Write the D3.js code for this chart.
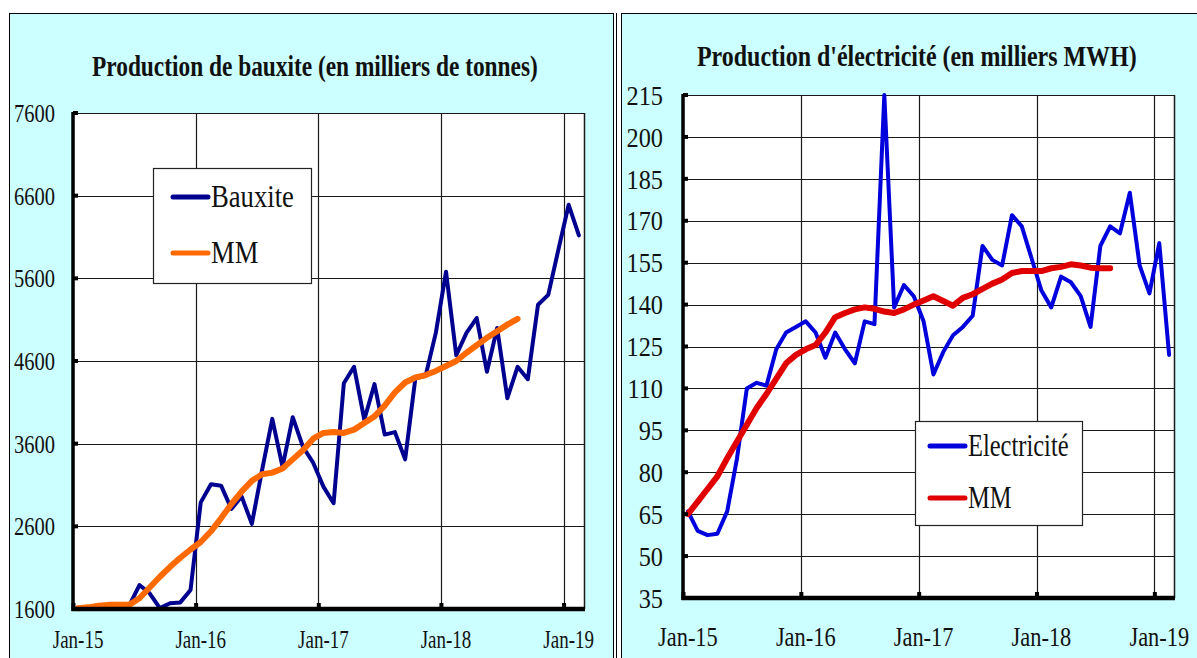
<!DOCTYPE html>
<html>
<head>
<meta charset="utf-8">
<script src="https://cdn.jsdelivr.net/npm/d3@7"></script>
<style>
  body { margin: 0; background: #fff; }
  svg { display: block; font-family: 'Liberation Serif', 'Times New Roman', serif; }
</style>
</head>
<body>
<svg width="1197" height="658"></svg>
<script>
'use strict'

// monthly data, Jan-15 .. Feb-19 (50 months); MM stops at Aug-18
const yearLabels = ['Jan-15', 'Jan-16', 'Jan-17', 'Jan-18', 'Jan-19']
const yearStarts = [0, 12, 24, 36, 48]

const bauxite = [1600, 1610, 1620, 1630, 1630, 1640, 1890, 1790, 1610, 1670,
  1680, 1830, 2890, 3110, 3090, 2810, 2960, 2630, 3280, 3900,
  3320, 3920, 3560, 3370, 3080, 2880, 4330, 4530, 3890, 4320,
  3710, 3740, 3410, 4390, 4420, 4940, 5680, 4670, 4940, 5120,
  4470, 5000, 4150, 4530, 4380, 5280, 5400, 5950, 6490, 6120]
const bauxiteMM = [1610, 1620, 1640, 1650, 1650, 1650, 1730, 1860, 1990, 2110,
  2220, 2320, 2410, 2540, 2700, 2870, 3020, 3150, 3230, 3250,
  3300, 3410, 3520, 3660, 3730, 3740, 3730, 3770, 3850, 3930,
  4060, 4220, 4340, 4400, 4430, 4480, 4540, 4600, 4700, 4790,
  4880, 4960, 5040, 5110]
const bauxiteTicks = [1600, 2600, 3600, 4600, 5600, 6600, 7600]

const electricite = [66, 59, 57.5, 58, 66, 85, 110, 112, 111, 124,
  130, 132, 134, 130, 121, 130, 124, 119, 134, 133,
  215, 139, 147, 143, 134, 115, 123, 129, 132, 136,
  161, 156, 154, 172, 168, 156.5, 145, 139, 150, 148,
  143, 132, 161, 168, 165.5, 180, 154, 144, 162, 122]
const electriciteMM = [65, 69.5, 74, 78.5, 85, 91, 97, 103, 108, 113.5,
  119, 122, 124, 125.5, 130, 135.5, 137, 138.3, 139, 138.5,
  137.5, 137, 138.3, 140, 141.5, 143, 141.3, 139.6, 142.4, 143.7,
  145.6, 147.5, 149, 151.3, 152, 152, 152, 153, 153.5, 154.4,
  154, 153.2, 153, 153]
const electriciteTicks = [35, 50, 65, 80, 95, 110, 125, 140, 155, 170, 185, 200, 215]

const svg = d3.select('svg')

// the source font is a narrow Garamond, so squeeze the text horizontally
// (scale about the anchor point, keeps the real bbox for layout checks)
function squeeze (sel, k) {
  sel.each(function () {
    const t = d3.select(this)
    const x = +t.attr('x'), y = +t.attr('y')
    t.attr('x', 0).attr('y', 0)
      .attr('transform', 'translate(' + x + ',' + y + ') scale(' + k + ',1)')
  })
}

function fitWidth (sel, w) {
  const k = w / sel.node().getComputedTextLength()
  squeeze(sel, k)
}

function drawChart (o) {
  const g = svg.append('g')

  g.append('rect')
    .attr('x', o.box[0] + 0.5).attr('y', o.box[1] + 0.5)
    .attr('width', o.box[2] - o.box[0]).attr('height', o.box[3] - o.box[1])
    .attr('fill', '#ccffff').attr('stroke', '#000').attr('stroke-width', 1)

  const title = g.append('text')
    .attr('x', o.titleX).attr('y', o.titleY)
    .attr('font-size', 30).attr('font-weight', 'bold').attr('fill', '#111')
    .text(o.title)
  fitWidth(title, o.titleW)

  const p = o.plot
  const x = d3.scaleLinear().domain([0, 50]).range([p.left, p.right])
  const y = d3.scaleLinear().domain([o.ticks[0], o.ticks[o.ticks.length - 1]]).range([p.bottom, p.top])

  g.append('rect')
    .attr('x', p.left).attr('y', p.top)
    .attr('width', p.right - p.left).attr('height', p.bottom - p.top)
    .attr('fill', '#fff')

  // grid
  g.append('g').selectAll('line')
    .data(o.ticks)
    .enter().append('line')
    .attr('x1', p.left).attr('x2', p.right)
    .attr('y1', d => Math.round(y(d)) + 0.5).attr('y2', d => Math.round(y(d)) + 0.5)
    .attr('stroke', '#1a1a1a').attr('stroke-width', 1.2)

  g.append('g').selectAll('line')
    .data(yearStarts)
    .enter().append('line')
    .attr('x1', d => Math.round(x(d)) + 0.5).attr('x2', d => Math.round(x(d)) + 0.5)
    .attr('y1', p.top).attr('y2', p.bottom)
    .attr('stroke', '#1a1a1a').attr('stroke-width', 1.2)

  g.append('line')
    .attr('x1', p.right + 0.5).attr('x2', p.right + 0.5)
    .attr('y1', p.top).attr('y2', p.bottom)
    .attr('stroke', '#1a1a1a').attr('stroke-width', 1.5)

  // series
  const line = d3.line()
    .x((d, i) => x(i + 0.5))
    .y(d => y(d))

  g.append('path')
    .datum(o.series)
    .attr('d', line)
    .attr('fill', 'none').attr('stroke', o.seriesColor).attr('stroke-width', 4)
    .attr('stroke-linejoin', 'round').attr('stroke-linecap', 'round')

  g.append('path')
    .datum(o.mm)
    .attr('d', line)
    .attr('fill', 'none').attr('stroke', o.mmColor).attr('stroke-width', 6)
    .attr('stroke-linejoin', 'round').attr('stroke-linecap', 'round')

  // axes: heavy lines with small square ticks, Excel style
  g.append('line')
    .attr('x1', p.left).attr('x2', p.left)
    .attr('y1', p.top - 1).attr('y2', p.bottom + 2)
    .attr('stroke', '#000').attr('stroke-width', 3.5)

  g.append('line')
    .attr('x1', p.left - 1.5).attr('x2', p.right + 1)
    .attr('y1', p.bottom).attr('y2', p.bottom)
    .attr('stroke', '#000').attr('stroke-width', 4.5)

  g.append('g').selectAll('rect')
    .data(o.ticks)
    .enter().append('rect')
    .attr('x', p.left).attr('y', d => y(d) - 2)
    .attr('width', 5).attr('height', 4)
    .attr('fill', '#000')

  g.append('g').selectAll('rect')
    .data(yearStarts)
    .enter().append('rect')
    .attr('x', d => x(d) - 1.5).attr('y', p.bottom - 6)
    .attr('width', 4).attr('height', 6)
    .attr('fill', '#000')

  // tick labels
  const yl = g.append('g').selectAll('text')
    .data(o.ticks)
    .enter().append('text')
    .attr('x', o.yLabelX).attr('y', d => y(d))
    .attr('dy', '0.36em')
    .attr('text-anchor', 'end')
    .attr('font-size', o.yFont).attr('fill', '#111')
    .text(d => d)
  squeeze(yl, o.ySqueeze)

  const xl = g.append('g').selectAll('text')
    .data(yearStarts)
    .enter().append('text')
    .attr('x', d => x(d + 0.5)).attr('y', o.xLabelY)
    .attr('text-anchor', 'middle')
    .attr('font-size', o.xFont).attr('fill', '#111')
    .text((d, i) => yearLabels[i])
  squeeze(xl, o.xSqueeze)

  // legend
  const L = o.legend
  const lg = g.append('g')
  lg.append('rect')
    .attr('x', L.x + 0.5).attr('y', L.y + 0.5)
    .attr('width', L.w).attr('height', L.h)
    .attr('fill', '#fff').attr('stroke', '#222').attr('stroke-width', 1.2)

  const items = [
    { name: o.seriesName, color: o.seriesColor, dy: L.row1 },
    { name: 'MM', color: o.mmColor, dy: L.row2 }
  ]
  items.forEach(it => {
    lg.append('line')
      .attr('x1', L.lineX).attr('x2', L.lineX + 35)
      .attr('y1', L.y + it.dy).attr('y2', L.y + it.dy)
      .attr('stroke', it.color).attr('stroke-width', 5)
      .attr('stroke-linecap', 'round')
    const t = lg.append('text')
      .attr('x', L.lineX + 38).attr('y', L.y + it.dy + 10)
      .attr('font-size', 31).attr('fill', '#111')
      .text(it.name)
    squeeze(t, L.squeeze)
  })
}

drawChart({
  box: [9, 13, 613, 700],
  title: 'Production de bauxite (en milliers de tonnes)',
  titleX: 92, titleY: 76, titleW: 446,
  plot: { left: 73, right: 584, top: 113, bottom: 609 },
  ticks: bauxiteTicks,
  series: bauxite, seriesName: 'Bauxite', seriesColor: '#000090',
  mm: bauxiteMM, mmColor: '#ff6a00',
  yLabelX: 55, yFont: 25, ySqueeze: 0.82,
  xLabelY: 648, xFont: 25, xSqueeze: 0.76,
  legend: { x: 153, y: 168, w: 158, h: 115, lineX: 173, row1: 29, row2: 85, squeeze: 0.86 }
})

drawChart({
  box: [621, 13, 1210, 700],
  title: 'Production d\'électricité (en milliers MWH)',
  titleX: 697, titleY: 66, titleW: 440,
  plot: { left: 683, right: 1174, top: 95, bottom: 598 },
  ticks: electriciteTicks,
  series: electricite, seriesName: 'Electricité', seriesColor: '#0000dd',
  mm: electriciteMM, mmColor: '#e00000',
  yLabelX: 663, yFont: 27, ySqueeze: 0.9,
  xLabelY: 646, xFont: 28, xSqueeze: 0.8,
  legend: { x: 915, y: 421, w: 167, h: 104, lineX: 930, row1: 25, row2: 77, squeeze: 0.79 }
})

// left border of the right panel is doubled in the source
svg.append('line')
  .attr('x1', 616.5).attr('x2', 616.5).attr('y1', 13).attr('y2', 658)
  .attr('stroke', '#000').attr('stroke-width', 1)
</script>
</body>
</html>
